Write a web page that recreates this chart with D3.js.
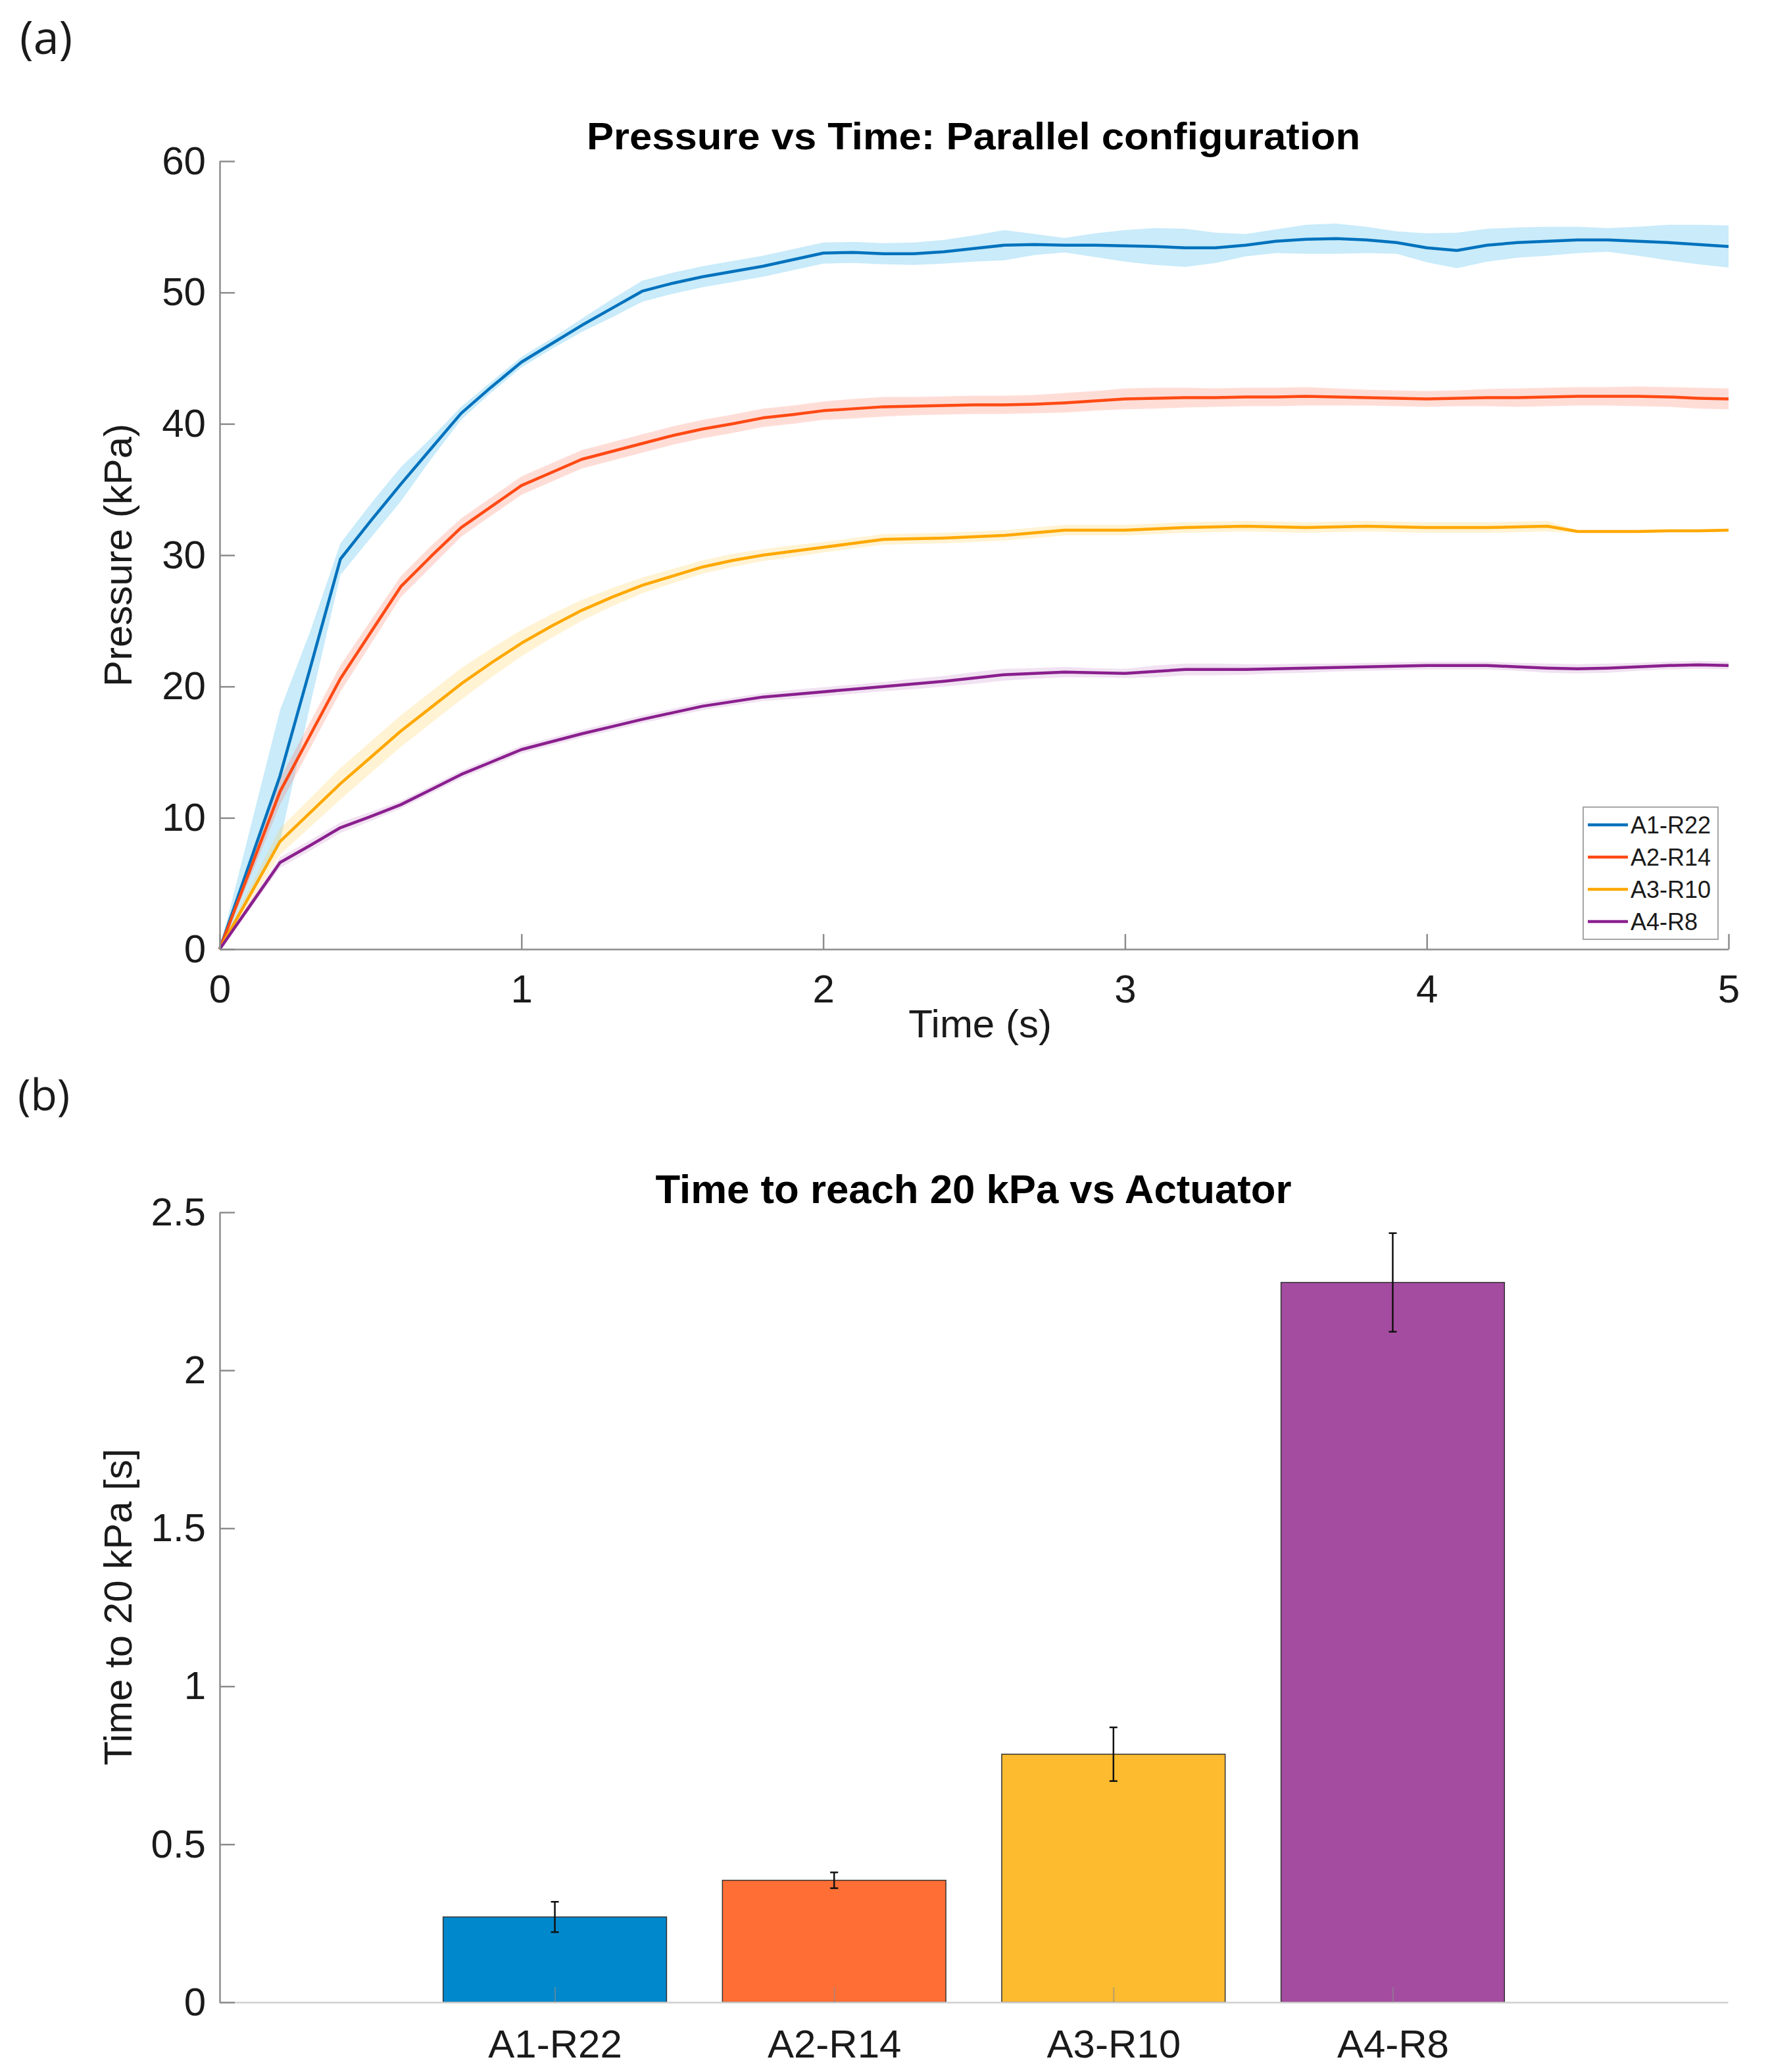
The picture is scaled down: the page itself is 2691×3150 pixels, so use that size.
<!DOCTYPE html>
<html>
<head>
<meta charset="utf-8">
<script src="https://cdn.jsdelivr.net/npm/d3@7"></script>
<style>
  body { margin: 0; background: #fff; }
  text { font-family: "Liberation Sans", Arial, sans-serif; fill: #1a1a1a; }
</style>
</head>
<body>
<div id="chart"></div>
<script>
// ---- panel (a) data: pressure vs time, mean and spread per actuator
var times = [0, 0.1, 0.2, 0.3, 0.4, 0.5, 0.6, 0.7, 0.8, 0.9, 1.0,
  1.1, 1.2, 1.3, 1.4, 1.5, 1.6, 1.7, 1.8, 1.9, 2.0,
  2.1, 2.2, 2.3, 2.4, 2.5, 2.6, 2.7, 2.8, 2.9, 3.0,
  3.1, 3.2, 3.3, 3.4, 3.5, 3.6, 3.7, 3.8, 3.9, 4.0,
  4.1, 4.2, 4.3, 4.4, 4.5, 4.6, 4.7, 4.8, 4.9, 5.0];

var seriesNames = ["A1-R22", "A2-R14", "A3-R10", "A4-R8"];

var a1Mean = [0, 6.6, 13.2, 21.4, 29.7, 32.6, 35.4, 38.1, 40.8, 42.8, 44.7,
  46.1, 47.5, 48.8, 50.1, 50.7, 51.2, 51.6, 52.0, 52.5, 53.0,
  53.05, 52.95, 52.95, 53.1, 53.35, 53.6, 53.65, 53.6, 53.6, 53.55,
  53.5, 53.4, 53.4, 53.6, 53.9, 54.05, 54.1, 54.0, 53.8, 53.4,
  53.2, 53.6, 53.8, 53.9, 54.0, 54.0, 53.9, 53.8, 53.65, 53.5];
var a1Std = [0, 2.5, 5.0, 2.8, 1.2, 1.3, 1.3, 0.8, 0.5, 0.4, 0.4,
  0.4, 0.5, 0.7, 0.8, 0.8, 0.8, 0.8, 0.8, 0.8, 0.8,
  0.8, 0.8, 0.85, 0.9, 1.0, 1.15, 0.8, 0.55, 0.9, 1.2,
  1.4, 1.45, 1.15, 0.85, 0.9, 1.1, 1.15, 1.0, 0.85, 1.1,
  1.35, 1.25, 1.15, 1.1, 1.0, 0.9, 1.1, 1.35, 1.5, 1.6];

var a2Mean = [0, 6.0, 12.0, 16.3, 20.6, 24.1, 27.6, 29.9, 32.1, 33.7, 35.3,
  36.3, 37.3, 37.9, 38.5, 39.1, 39.6, 40.0, 40.45, 40.7, 41.0,
  41.15, 41.3, 41.35, 41.4, 41.45, 41.45, 41.5, 41.6, 41.75, 41.9,
  41.95, 42.0, 42.0, 42.05, 42.05, 42.1, 42.05, 42.0, 41.95, 41.9,
  41.95, 42.0, 42.0, 42.05, 42.1, 42.1, 42.1, 42.05, 41.95, 41.9];
var a2Std = [0, 0.6, 1.0, 1.0, 1.0, 0.9, 0.8, 0.8, 0.7, 0.7, 0.7,
  0.7, 0.7, 0.7, 0.7, 0.7, 0.7, 0.7, 0.7, 0.7, 0.7,
  0.75, 0.75, 0.7, 0.7, 0.7, 0.7, 0.7, 0.75, 0.75, 0.8,
  0.8, 0.75, 0.7, 0.7, 0.7, 0.7, 0.65, 0.6, 0.6, 0.6,
  0.6, 0.65, 0.7, 0.7, 0.7, 0.7, 0.75, 0.75, 0.8, 0.8];

var a3Mean = [0, 4.1, 8.2, 10.4, 12.6, 14.6, 16.6, 18.4, 20.2, 21.8, 23.3,
  24.6, 25.8, 26.8, 27.7, 28.4, 29.1, 29.6, 30.0, 30.3, 30.6,
  30.9, 31.2, 31.25, 31.3, 31.4, 31.5, 31.7, 31.9, 31.9, 31.9,
  32.0, 32.1, 32.15, 32.2, 32.15, 32.1, 32.15, 32.2, 32.15, 32.1,
  32.1, 32.1, 32.15, 32.2, 31.8, 31.8, 31.8, 31.85, 31.85, 31.9];
var a3Std = [0, 0.6, 1.0, 1.1, 1.2, 1.2, 1.2, 1.2, 1.2, 1.1, 1.0,
  0.9, 0.8, 0.7, 0.6, 0.55, 0.5, 0.5, 0.45, 0.45, 0.4,
  0.4, 0.4, 0.4, 0.4, 0.4, 0.4, 0.4, 0.4, 0.4, 0.4,
  0.4, 0.4, 0.4, 0.4, 0.4, 0.4, 0.4, 0.4, 0.4, 0.4,
  0.4, 0.4, 0.4, 0.4, 0.1, 0.1, 0.1, 0.1, 0.1, 0.1];

var a4Mean = [0, 3.3, 6.6, 7.9, 9.25, 10.1, 11.0, 12.15, 13.3, 14.25, 15.2,
  15.8, 16.4, 16.95, 17.5, 18.0, 18.5, 18.85, 19.2, 19.4, 19.6,
  19.8, 20.0, 20.2, 20.4, 20.65, 20.9, 21.0, 21.1, 21.05, 21.0,
  21.15, 21.3, 21.3, 21.3, 21.35, 21.4, 21.45, 21.5, 21.55, 21.6,
  21.6, 21.6, 21.5, 21.4, 21.35, 21.4, 21.5, 21.6, 21.65, 21.6];
var a4Std = [0, 0.3, 0.4, 0.4, 0.4, 0.35, 0.3, 0.3, 0.3, 0.3, 0.3,
  0.3, 0.3, 0.3, 0.3, 0.3, 0.3, 0.3, 0.3, 0.35, 0.35,
  0.35, 0.35, 0.4, 0.4, 0.45, 0.45, 0.4, 0.4, 0.35, 0.35,
  0.45, 0.45, 0.45, 0.4, 0.35, 0.35, 0.3, 0.3, 0.3, 0.3,
  0.3, 0.3, 0.3, 0.35, 0.35, 0.35, 0.3, 0.3, 0.3, 0.3];

var pressureTicks = [0, 10, 20, 30, 40, 50, 60];
var timeTicks = [0, 1, 2, 3, 4, 5];

// ---- panel (b) data: time to reach 20 kPa
var barCategories = ["A1-R22", "A2-R14", "A3-R10", "A4-R8"];
var barValues = [0.27, 0.386, 0.785, 2.278];
var barErrors = [0.048, 0.025, 0.085, 0.156];
var barTicks = [0, 0.5, 1, 1.5, 2, 2.5];

var lineColors = ["#0072bd", "#ff4a14", "#ffa800", "#8a1f8e"];
var bandColors = ["rgb(77,190,238)", "rgb(255,99,71)", "rgb(255,200,60)", "rgb(160,60,170)"];
var bandOpacity = [0.3, 0.22, 0.22, 0.15];
var barColors = ["#0088cc", "#ff6e35", "#fdbb2f", "#a44ca0"];

var W = 2691, H = 3150;
var svg = d3.select("#chart").append("svg")
  .attr("width", W).attr("height", H)
  .style("background", "#fff");

// panel labels
svg.append("text").attr("x", 30).attr("y", 82)
  .style("font-family", "'Open Sans', 'Noto Sans', sans-serif")
  .style("font-size", "70px").text("(a)");
svg.append("text").attr("x", 27).attr("y", 1688)
  .style("font-family", "'Open Sans', 'Noto Sans', sans-serif")
  .style("font-size", "66px").text("(b)");

// ================= panel (a) =================
var x = d3.scaleLinear().domain([0, 5]).range([334, 2628]);
var y = d3.scaleLinear().domain([0, 60]).range([1443, 245]);

var series = [
  {name: seriesNames[0], mean: a1Mean, std: a1Std},
  {name: seriesNames[1], mean: a2Mean, std: a2Std},
  {name: seriesNames[2], mean: a3Mean, std: a3Std},
  {name: seriesNames[3], mean: a4Mean, std: a4Std}
];

var band = d3.area()
  .x(function(d, i) { return x(times[i]); })
  .y0(function(d) { return y(d[0] - d[1]); })
  .y1(function(d) { return y(d[0] + d[1]); });

var line = d3.line()
  .x(function(d, i) { return x(times[i]); })
  .y(function(d) { return y(d); });

var gA = svg.append("g");

series.forEach(function(s, k) {
  var pairs = s.mean.map(function(m, i) { return [m, s.std[i]]; });
  gA.append("path")
    .attr("d", band(pairs))
    .attr("fill", bandColors[k])
    .attr("fill-opacity", bandOpacity[k]);
});

series.forEach(function(s, k) {
  gA.append("path")
    .attr("d", line(s.mean))
    .attr("fill", "none")
    .attr("stroke", lineColors[k])
    .attr("stroke-width", 4.5)
    .attr("stroke-linejoin", "round");
});

// axes
var xAxisA = gA.append("g")
  .attr("transform", "translate(0,1443)")
  .call(d3.axisBottom(x).tickValues(timeTicks).tickFormat(d3.format("d"))
    .tickSizeInner(-23).tickSizeOuter(0).tickPadding(38));
var yAxisA = gA.append("g")
  .attr("transform", "translate(334,0)")
  .call(d3.axisLeft(y).tickValues(pressureTicks).tickFormat(d3.format("d"))
    .tickSizeInner(-23).tickSizeOuter(0).tickPadding(21));

[xAxisA, yAxisA].forEach(function(ax) {
  ax.select(".domain").attr("stroke", "#8c8c8c").attr("stroke-width", 2.5);
  ax.selectAll(".tick line").attr("stroke", "#8c8c8c").attr("stroke-width", 2.5);
  ax.selectAll(".tick text").attr("fill", "#1a1a1a")
    .style("font-size", "60px").style("font-family", "'Liberation Sans', Arial, sans-serif");
});

gA.append("text")
  .attr("x", 1480).attr("y", 227)
  .attr("text-anchor", "middle")
  .attr("textLength", 1176).attr("lengthAdjust", "spacingAndGlyphs")
  .style("font-weight", "bold").style("font-size", "57px").style("fill", "#000")
  .text("Pressure vs Time: Parallel configuration");

gA.append("text")
  .attr("x", 1490).attr("y", 1577)
  .attr("text-anchor", "middle")
  .style("font-size", "60px")
  .text("Time (s)");

gA.append("text")
  .attr("transform", "translate(200,844) rotate(-90)")
  .attr("text-anchor", "middle")
  .style("font-size", "60px")
  .text("Pressure (kPa)");

// legend
var legend = gA.append("g");
legend.append("rect")
  .attr("x", 2407).attr("y", 1227).attr("width", 205).attr("height", 201)
  .attr("fill", "#fff").attr("stroke", "#a6a6a6").attr("stroke-width", 2);
var legendRow = d3.scaleLinear().domain([0, 3]).range([1254, 1401]);
series.forEach(function(s, k) {
  legend.append("line")
    .attr("x1", 2414).attr("x2", 2475)
    .attr("y1", legendRow(k)).attr("y2", legendRow(k))
    .attr("stroke", lineColors[k]).attr("stroke-width", 4.5);
  legend.append("text")
    .attr("x", 2479).attr("y", legendRow(k) + 13)
    .style("font-size", "36px")
    .text(s.name);
});

// ================= panel (b) =================
var xb = d3.scaleLinear().domain([-0.2, 5.2]).range([334, 2627]);
var yb = d3.scaleLinear().domain([0, 2.5]).range([3044, 1843]);
var barW = xb(0.8) - xb(0);

var gB = svg.append("g");

gB.selectAll(".bar")
  .data(barValues)
  .enter()
  .append("rect")
  .attr("class", "bar")
  .attr("x", function(d, i) { return xb(i + 1) - barW / 2; })
  .attr("y", function(d) { return yb(d); })
  .attr("width", barW)
  .attr("height", function(d) { return yb(0) - yb(d); })
  .attr("fill", function(d, i) { return barColors[i]; })
  .attr("stroke", "#333")
  .attr("stroke-width", 1.5);

var xAxisB = gB.append("g")
  .attr("transform", "translate(0,3044)")
  .call(d3.axisBottom(xb).tickValues([1, 2, 3, 4])
    .tickFormat(function(d) { return barCategories[d - 1]; })
    .tickSizeInner(-23).tickSizeOuter(0).tickPadding(41));
xAxisB.select(".domain").attr("stroke", "#cfcfcf").attr("stroke-width", 2.5);
xAxisB.selectAll(".tick line").attr("stroke", "#8c8c8c").attr("stroke-opacity", 0.6).attr("stroke-width", 2);

var yAxisB = gB.append("g")
  .attr("transform", "translate(334,0)")
  .call(d3.axisLeft(yb).tickValues(barTicks).tickFormat(d3.format("~g"))
    .tickSizeInner(-23).tickSizeOuter(0).tickPadding(21));
yAxisB.select(".domain").attr("stroke", "#8c8c8c").attr("stroke-width", 2.5);
yAxisB.selectAll(".tick line").attr("stroke", "#8c8c8c").attr("stroke-width", 2.5);

[xAxisB, yAxisB].forEach(function(ax) {
  ax.selectAll(".tick text").attr("fill", "#1a1a1a")
    .style("font-size", "60px").style("font-family", "'Liberation Sans', Arial, sans-serif");
});

// error bars
var errG = gB.append("g").attr("stroke", "#111").attr("stroke-width", 2.5);
barValues.forEach(function(v, i) {
  var cx = xb(i + 1);
  var top = yb(v + barErrors[i]), bot = yb(v - barErrors[i]);
  errG.append("line").attr("x1", cx).attr("x2", cx).attr("y1", top).attr("y2", bot);
  errG.append("line").attr("x1", cx - 6).attr("x2", cx + 6).attr("y1", top).attr("y2", top);
  errG.append("line").attr("x1", cx - 6).attr("x2", cx + 6).attr("y1", bot).attr("y2", bot);
});

gB.append("text")
  .attr("x", 1480).attr("y", 1829)
  .attr("text-anchor", "middle")
  .attr("textLength", 967).attr("lengthAdjust", "spacingAndGlyphs")
  .style("font-weight", "bold").style("font-size", "61px").style("fill", "#000")
  .text("Time to reach 20 kPa vs Actuator");

gB.append("text")
  .attr("transform", "translate(200,2443) rotate(-90)")
  .attr("text-anchor", "middle")
  .style("font-size", "60px")
  .text("Time to 20 kPa [s]");
</script>
</body>
</html>
